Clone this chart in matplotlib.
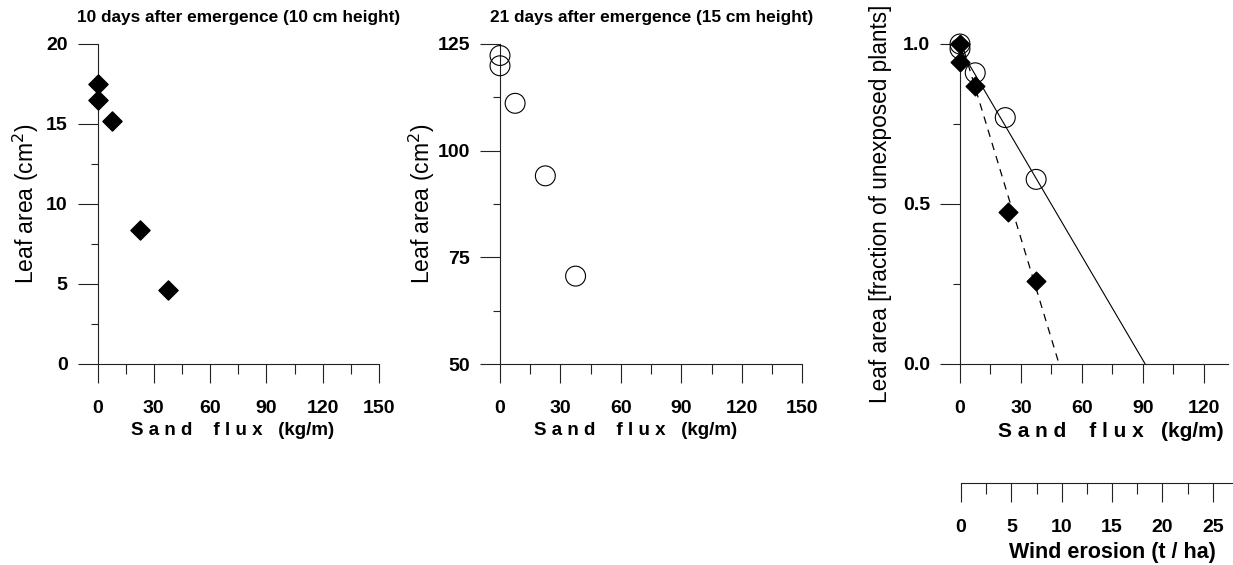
import matplotlib
matplotlib.use("Agg")
import matplotlib.pyplot as plt
from matplotlib.ticker import MultipleLocator, FormatStrFormatter
from matplotlib.transforms import blended_transform_factory

plt.rcParams['font.family'] = ['Liberation Sans', 'DejaVu Sans']

# ---------------- data ----------------
sand_flux_10d = [0, 0, 7.5, 22.5, 37.5]
leaf_area_10d = [17.5, 16.5, 15.2, 8.4, 4.6]

sand_flux_21d = [0, 0, 7.5, 22.5, 37.5]
leaf_area_21d = [122.3, 119.9, 111.1, 94.1, 70.6]

rel_flux_21d = [0, 0, 7.5, 22.3, 37.5]
rel_area_21d = [1.0, 0.985, 0.91, 0.77, 0.577]
rel_flux_10d = [0, 0, 7.5, 23.5, 37.5]
rel_area_10d = [1.0, 0.945, 0.868, 0.476, 0.26]

fit_21d_x = [0, 91.2]
fit_21d_y = [0.985, 0.0]
fit_10d_x = [0, 48.8]
fit_10d_y = [1.02, 0.0]

title_10d = "10 days after emergence (10 cm height)"
title_21d = "21 days after emergence (15 cm height)"
xlabel_flux = "S a n d    f l u x   (kg/m)"
ylabel_abs = "Leaf area (cm$^2$)"
ylabel_rel = "Leaf area [fraction of unexposed plants]"
xlabel_erosion = "Wind erosion (t / ha)"

# ---------------- layout ----------------
W, H = 1233, 565
fig = plt.figure(figsize=(W / 100, H / 100), dpi=100)


def px_axes(left, right, top, bottom):
    return fig.add_axes([left / W, 1 - bottom / H, (right - left) / W, (bottom - top) / H])


def style(ax, xmax, ymin, ymax, ymaj, ymin_step):
    for s in ('top', 'right'):
        ax.spines[s].set_visible(False)
    for s in ('left', 'bottom'):
        ax.spines[s].set_linewidth(0.8)
        ax.spines[s].set_color('#222222')
    ax.set_xlim(0, xmax)
    ax.set_ylim(ymin, ymax)
    ax.xaxis.set_major_locator(MultipleLocator(30))
    ax.xaxis.set_minor_locator(MultipleLocator(15))
    ax.yaxis.set_major_locator(MultipleLocator(ymaj))
    ax.yaxis.set_minor_locator(MultipleLocator(ymin_step))
    ax.tick_params(axis='x', which='major', direction='out', length=14, width=0.8,
                   pad=12, labelsize=14, color='#222222')
    ax.tick_params(axis='x', which='minor', direction='out', length=7.5, width=0.8,
                   color='#222222')
    ax.tick_params(axis='y', which='major', direction='out', length=14.5, width=0.8,
                   pad=7, labelsize=14, color='#222222')
    ax.tick_params(axis='y', which='minor', direction='out', length=5, width=0.8,
                   color='#222222')
    for lab in ax.get_xticklabels() + ax.get_yticklabels():
        lab.set_fontweight('bold')


# Panel 1
ax1 = px_axes(97.5, 379, 44, 364)
style(ax1, 150, 0, 20, 5, 2.5)
ax1.scatter(sand_flux_10d, leaf_area_10d, marker='D', s=95, color='black',
            clip_on=False, zorder=3)
ax1.set_title(title_10d, fontsize=12.4, fontweight='bold', pad=16)
ax1.set_xlabel(xlabel_flux, fontsize=13.5, fontweight='bold')
ax1.xaxis.set_label_coords(0.48, -0.18)
ax1.xaxis.label.set_va('top')
ax1.set_ylabel(ylabel_abs, fontsize=16.5)
ax1.yaxis.set_label_coords(-0.2, 0.5)

# Panel 2
ax2 = px_axes(500, 802.3, 44, 364)
style(ax2, 150, 50, 125, 25, 12.5)
ax2.scatter(sand_flux_21d, leaf_area_21d, marker='o', s=205, facecolors='none',
            edgecolors='black', linewidths=0.8, clip_on=False, zorder=3)
ax2.set_title(title_21d, fontsize=12.4, fontweight='bold', pad=16)
ax2.set_xlabel(xlabel_flux, fontsize=13.5, fontweight='bold')
ax2.xaxis.set_label_coords(0.448, -0.18)
ax2.xaxis.label.set_va('top')
ax2.set_ylabel(ylabel_abs, fontsize=16.5)
ax2.yaxis.set_label_coords(-0.207, 0.5)
ax2.yaxis.set_major_formatter(FormatStrFormatter('%d'))

# Panel 3
ax3 = px_axes(960, 1228, 44, 364)
style(ax3, 132, 0, 1.0, 0.5, 0.25)
ax3.yaxis.set_major_formatter(FormatStrFormatter('%.1f'))
ax3.plot(fit_21d_x, fit_21d_y, color='black', lw=0.8, zorder=2)
ax3.plot(fit_10d_x, fit_10d_y, color='black', lw=0.9, ls=(0, (6, 5)), zorder=2)
ax3.scatter(rel_flux_21d, rel_area_21d, marker='o', s=205, facecolors='none',
            edgecolors='black', linewidths=0.8, clip_on=False, zorder=3)
ax3.scatter(rel_flux_10d, rel_area_10d, marker='D', s=90, color='black',
            clip_on=False, zorder=4)
ax3.set_xlabel(xlabel_flux, fontsize=15, fontweight='bold')
ax3.xaxis.set_label_coords(0.563, -0.18)
ax3.xaxis.label.set_va('top')
ax3.set_ylabel(ylabel_rel, fontsize=16.3)
ax3.yaxis.set_label_coords(-0.254, 0.5)
for lab in ax3.get_xticklabels() + ax3.get_yticklabels():
    lab.set_fontweight('bold')

# Wind erosion secondary scale
ax4 = fig.add_axes([961 / W, 1 - 483 / H, (1233 - 961) / W, 0.0001])
for s in ('top', 'right', 'left'):
    ax4.spines[s].set_visible(False)
ax4.spines['bottom'].set_linewidth(0.8)
ax4.spines['bottom'].set_color('#222222')
ax4.set_xlim(0, 27)
ax4.set_yticks([])
ax4.xaxis.set_major_locator(MultipleLocator(5))
ax4.xaxis.set_minor_locator(MultipleLocator(2.5))
ax4.tick_params(axis='x', which='major', direction='out', length=14, width=0.8,
                pad=12, labelsize=14, color='#222222')
ax4.tick_params(axis='x', which='minor', direction='out', length=8, width=0.8,
                color='#222222')
for lab in ax4.get_xticklabels():
    lab.set_fontweight('bold')
ax4.set_xlabel(xlabel_erosion, fontsize=15.5, fontweight='bold')
ax4.xaxis.set_label_coords(0.555, 1 - 542 / H,
                           transform=blended_transform_factory(ax4.transAxes, fig.transFigure))
ax4.xaxis.label.set_va('top')
ax4.patch.set_visible(False)

fig.savefig("out.png", dpi=100)
